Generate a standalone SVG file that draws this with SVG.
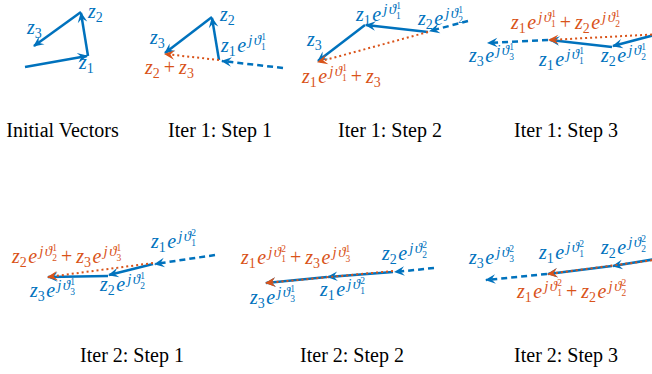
<svg xmlns="http://www.w3.org/2000/svg" width="652" height="374" viewBox="0 0 652 374">
<style>
.m{font-family:"Liberation Serif","DejaVu Serif",serif;font-size:20px;font-style:italic}
.b{fill:#0072BD}
.o{fill:#D95319}
.d{font-style:normal;font-size:14px}
.sl{font-size:15px}
.dd{font-style:normal;font-size:9.5px}
.r{font-style:normal}
.c{font-family:"Liberation Serif","Times New Roman",serif;font-size:20px;text-anchor:middle;fill:#000}
.sb{stroke:#0072BD;stroke-width:2.5;fill:none;marker-end:url(#ab)}
.db{stroke:#0072BD;stroke-width:2.5;fill:none;stroke-dasharray:6 4;marker-end:url(#ab)}
.ot{stroke:#D95319;stroke-width:2;fill:none;stroke-dasharray:2 3;marker-end:url(#ao)}
</style>
<defs>
<marker id="ab" viewBox="-11 -6 13 12" markerWidth="13" markerHeight="12" refX="0" refY="0" orient="auto" markerUnits="userSpaceOnUse"><path d="M1,0 L-9.5,-4.8 L-5.5,0 L-9.5,4.8 Z" fill="#0072BD"/></marker>
<marker id="ao" viewBox="-11 -6 13 12" markerWidth="13" markerHeight="12" refX="0" refY="0" orient="auto" markerUnits="userSpaceOnUse"><path d="M1,0 L-9.5,-4.8 L-5.5,0 L-9.5,4.8 Z" fill="#D95319"/></marker>
</defs>

<g id="panel-initial">
<g class="connectors">
<line class="sb" x1="25" y1="67" x2="87" y2="56"/>
<line class="sb" x1="88" y1="56" x2="81" y2="13"/>
<line class="sb" x1="81" y1="12" x2="34" y2="46"/>
</g>
<text class="m b" x="27" y="34">z<tspan class="d" dy="4">3</tspan></text>
<text class="m b" x="88" y="18">z<tspan class="d" dy="4">2</tspan></text>
<text class="m b" x="79" y="69">z<tspan class="d" dy="4">1</tspan></text>
<text class="c" x="62.5" y="137">Initial Vectors</text>
</g>

<g id="panel-i1s1">
<g class="connectors">
<line class="db" x1="283" y1="68" x2="222" y2="61"/>
<line class="sb" x1="219" y1="60" x2="212" y2="18"/>
<line class="sb" x1="212" y1="17" x2="165" y2="53"/>
<line class="ot" x1="219" y1="60" x2="165" y2="54"/>
</g>
<text class="m b" x="220" y="21">z<tspan class="d" dy="4">2</tspan></text>
<text class="m b" x="150" y="44">z<tspan class="d" dy="4">3</tspan></text>
<text class="m b" x="221" y="52">z<tspan class="d" dy="4">1</tspan><tspan dx="1.5" dy="-4">e</tspan><tspan class="sl" dx="2" dy="-7">j</tspan><tspan class="sl" dx="1.5">ϑ</tspan><tspan class="dd" dy="-5.5">1</tspan><tspan class="dd" dx="-4.75" dy="10.5">1</tspan></text>
<text class="m o" x="145" y="74">z<tspan class="d" dy="4">2</tspan><tspan class="r" dx="4" dy="-4">+</tspan><tspan dx="4">z</tspan><tspan class="d" dy="4">3</tspan></text>
<text class="c" x="220" y="137">Iter 1: Step 1</text>
</g>

<g id="panel-i1s2">
<g class="connectors">
<line class="db" x1="468" y1="21" x2="430" y2="31"/>
<line class="sb" x1="428" y1="32" x2="366" y2="25"/>
<line class="sb" x1="365" y1="25" x2="318" y2="61"/>
<line class="ot" x1="428" y1="32" x2="318" y2="62"/>
</g>
<text class="m b" x="356" y="21">z<tspan class="d" dy="4">1</tspan><tspan dx="1.5" dy="-4">e</tspan><tspan class="sl" dx="2" dy="-7">j</tspan><tspan class="sl" dx="1.5">ϑ</tspan><tspan class="dd" dy="-5.5">1</tspan><tspan class="dd" dx="-4.75" dy="10.5">1</tspan></text>
<text class="m b" x="418" y="25">z<tspan class="d" dy="4">2</tspan><tspan dx="1.5" dy="-4">e</tspan><tspan class="sl" dx="2" dy="-7">j</tspan><tspan class="sl" dx="1.5">ϑ</tspan><tspan class="dd" dy="-5.5">1</tspan><tspan class="dd" dx="-4.75" dy="10.5">2</tspan></text>
<text class="m b" x="307" y="46">z<tspan class="d" dy="4">3</tspan></text>
<text class="m o" x="302" y="83">z<tspan class="d" dy="4">1</tspan><tspan dx="1.5" dy="-4">e</tspan><tspan class="sl" dx="2" dy="-7">j</tspan><tspan class="sl" dx="1.5">ϑ</tspan><tspan class="dd" dy="-5.5">1</tspan><tspan class="dd" dx="-4.75" dy="10.5">1</tspan><tspan class="r" dx="4" dy="2">+</tspan><tspan dx="4">z</tspan><tspan class="d" dy="4">3</tspan></text>
<text class="c" x="390" y="137">Iter 1: Step 2</text>
</g>

<g id="panel-i1s3">
<g class="connectors">
<line class="sb" x1="662" y1="33" x2="613" y2="46"/>
<line class="sb" x1="612" y1="47" x2="550" y2="40"/>
<line class="ot" x1="662" y1="34" x2="549" y2="40"/>
<line class="db" x1="548" y1="40" x2="488" y2="43"/>
</g>
<text class="m o" x="511" y="29">z<tspan class="d" dy="4">1</tspan><tspan dx="1.5" dy="-4">e</tspan><tspan class="sl" dx="2" dy="-7">j</tspan><tspan class="sl" dx="1.5">ϑ</tspan><tspan class="dd" dy="-5.5">1</tspan><tspan class="dd" dx="-4.75" dy="10.5">1</tspan><tspan class="r" dx="4" dy="2">+</tspan><tspan dx="4">z</tspan><tspan class="d" dy="4">2</tspan><tspan dx="1.5" dy="-4">e</tspan><tspan class="sl" dx="2" dy="-7">j</tspan><tspan class="sl" dx="1.5">ϑ</tspan><tspan class="dd" dy="-5.5">1</tspan><tspan class="dd" dx="-4.75" dy="10.5">2</tspan></text>
<text class="m b" x="469" y="62">z<tspan class="d" dy="4">3</tspan><tspan dx="1.5" dy="-4">e</tspan><tspan class="sl" dx="2" dy="-7">j</tspan><tspan class="sl" dx="1.5">ϑ</tspan><tspan class="dd" dy="-5.5">1</tspan><tspan class="dd" dx="-4.75" dy="10.5">3</tspan></text>
<text class="m b" x="539" y="66">z<tspan class="d" dy="4">1</tspan><tspan dx="1.5" dy="-4">e</tspan><tspan class="sl" dx="2" dy="-7">j</tspan><tspan class="sl" dx="1.5">ϑ</tspan><tspan class="dd" dy="-5.5">1</tspan><tspan class="dd" dx="-4.75" dy="10.5">1</tspan></text>
<text class="m b" x="601" y="62">z<tspan class="d" dy="4">2</tspan><tspan dx="1.5" dy="-4">e</tspan><tspan class="sl" dx="2" dy="-7">j</tspan><tspan class="sl" dx="1.5">ϑ</tspan><tspan class="dd" dy="-5.5">1</tspan><tspan class="dd" dx="-4.75" dy="10.5">2</tspan></text>
<text class="c" x="566" y="137">Iter 1: Step 3</text>
</g>

<g id="panel-i2s1">
<g class="connectors">
<line class="db" x1="215" y1="255" x2="155" y2="264"/>
<line class="sb" x1="153" y1="264" x2="109" y2="275"/>
<line class="sb" x1="108" y1="276" x2="48" y2="277"/>
<line class="ot" x1="153" y1="263" x2="48" y2="277"/>
</g>
<text class="m o" x="12" y="263">z<tspan class="d" dy="4">2</tspan><tspan dx="1.5" dy="-4">e</tspan><tspan class="sl" dx="2" dy="-7">j</tspan><tspan class="sl" dx="1.5">ϑ</tspan><tspan class="dd" dy="-5.5">1</tspan><tspan class="dd" dx="-4.75" dy="10.5">2</tspan><tspan class="r" dx="4" dy="2">+</tspan><tspan dx="4">z</tspan><tspan class="d" dy="4">3</tspan><tspan dx="1.5" dy="-4">e</tspan><tspan class="sl" dx="2" dy="-7">j</tspan><tspan class="sl" dx="1.5">ϑ</tspan><tspan class="dd" dy="-5.5">1</tspan><tspan class="dd" dx="-4.75" dy="10.5">3</tspan></text>
<text class="m b" x="151" y="248">z<tspan class="d" dy="4">1</tspan><tspan dx="1.5" dy="-4">e</tspan><tspan class="sl" dx="2" dy="-7">j</tspan><tspan class="sl" dx="1.5">ϑ</tspan><tspan class="dd" dy="-5.5">2</tspan><tspan class="dd" dx="-4.75" dy="10.5">1</tspan></text>
<text class="m b" x="30" y="297">z<tspan class="d" dy="4">3</tspan><tspan dx="1.5" dy="-4">e</tspan><tspan class="sl" dx="2" dy="-7">j</tspan><tspan class="sl" dx="1.5">ϑ</tspan><tspan class="dd" dy="-5.5">1</tspan><tspan class="dd" dx="-4.75" dy="10.5">3</tspan></text>
<text class="m b" x="100" y="291">z<tspan class="d" dy="4">2</tspan><tspan dx="1.5" dy="-4">e</tspan><tspan class="sl" dx="2" dy="-7">j</tspan><tspan class="sl" dx="1.5">ϑ</tspan><tspan class="dd" dy="-5.5">1</tspan><tspan class="dd" dx="-4.75" dy="10.5">2</tspan></text>
<text class="c" x="132" y="362">Iter 2: Step 1</text>
</g>

<g id="panel-i2s2">
<g class="connectors">
<line class="db" x1="434" y1="268" x2="395" y2="272"/>
<line class="sb" x1="393" y1="272" x2="328" y2="277"/>
<line class="sb" x1="327" y1="277" x2="266" y2="283"/>
<line class="ot" x1="393" y1="271" x2="266" y2="283"/>
</g>
<text class="m o" x="241" y="264">z<tspan class="d" dy="4">1</tspan><tspan dx="1.5" dy="-4">e</tspan><tspan class="sl" dx="2" dy="-7">j</tspan><tspan class="sl" dx="1.5">ϑ</tspan><tspan class="dd" dy="-5.5">2</tspan><tspan class="dd" dx="-4.75" dy="10.5">1</tspan><tspan class="r" dx="4" dy="2">+</tspan><tspan dx="4">z</tspan><tspan class="d" dy="4">3</tspan><tspan dx="1.5" dy="-4">e</tspan><tspan class="sl" dx="2" dy="-7">j</tspan><tspan class="sl" dx="1.5">ϑ</tspan><tspan class="dd" dy="-5.5">1</tspan><tspan class="dd" dx="-4.75" dy="10.5">3</tspan></text>
<text class="m b" x="382" y="260">z<tspan class="d" dy="4">2</tspan><tspan dx="1.5" dy="-4">e</tspan><tspan class="sl" dx="2" dy="-7">j</tspan><tspan class="sl" dx="1.5">ϑ</tspan><tspan class="dd" dy="-5.5">2</tspan><tspan class="dd" dx="-4.75" dy="10.5">2</tspan></text>
<text class="m b" x="320" y="296">z<tspan class="d" dy="4">1</tspan><tspan dx="1.5" dy="-4">e</tspan><tspan class="sl" dx="2" dy="-7">j</tspan><tspan class="sl" dx="1.5">ϑ</tspan><tspan class="dd" dy="-5.5">2</tspan><tspan class="dd" dx="-4.75" dy="10.5">1</tspan></text>
<text class="m b" x="250" y="304">z<tspan class="d" dy="4">3</tspan><tspan dx="1.5" dy="-4">e</tspan><tspan class="sl" dx="2" dy="-7">j</tspan><tspan class="sl" dx="1.5">ϑ</tspan><tspan class="dd" dy="-5.5">1</tspan><tspan class="dd" dx="-4.75" dy="10.5">3</tspan></text>
<text class="c" x="352" y="362">Iter 2: Step 2</text>
</g>

<g id="panel-i2s3">
<g class="connectors">
<line class="sb" x1="662" y1="258" x2="613" y2="266"/>
<line class="sb" x1="612" y1="266" x2="548" y2="274"/>
<line class="ot" x1="662" y1="259" x2="548" y2="274"/>
<line class="db" x1="547" y1="274" x2="486" y2="280"/>
</g>
<text class="m b" x="469" y="264">z<tspan class="d" dy="4">3</tspan><tspan dx="1.5" dy="-4">e</tspan><tspan class="sl" dx="2" dy="-7">j</tspan><tspan class="sl" dx="1.5">ϑ</tspan><tspan class="dd" dy="-5.5">2</tspan><tspan class="dd" dx="-4.75" dy="10.5">3</tspan></text>
<text class="m b" x="539" y="259">z<tspan class="d" dy="4">1</tspan><tspan dx="1.5" dy="-4">e</tspan><tspan class="sl" dx="2" dy="-7">j</tspan><tspan class="sl" dx="1.5">ϑ</tspan><tspan class="dd" dy="-5.5">2</tspan><tspan class="dd" dx="-4.75" dy="10.5">1</tspan></text>
<text class="m b" x="601" y="254">z<tspan class="d" dy="4">2</tspan><tspan dx="1.5" dy="-4">e</tspan><tspan class="sl" dx="2" dy="-7">j</tspan><tspan class="sl" dx="1.5">ϑ</tspan><tspan class="dd" dy="-5.5">2</tspan><tspan class="dd" dx="-4.75" dy="10.5">2</tspan></text>
<text class="m o" x="517" y="298">z<tspan class="d" dy="4">1</tspan><tspan dx="1.5" dy="-4">e</tspan><tspan class="sl" dx="2" dy="-7">j</tspan><tspan class="sl" dx="1.5">ϑ</tspan><tspan class="dd" dy="-5.5">2</tspan><tspan class="dd" dx="-4.75" dy="10.5">1</tspan><tspan class="r" dx="4" dy="2">+</tspan><tspan dx="4">z</tspan><tspan class="d" dy="4">2</tspan><tspan dx="1.5" dy="-4">e</tspan><tspan class="sl" dx="2" dy="-7">j</tspan><tspan class="sl" dx="1.5">ϑ</tspan><tspan class="dd" dy="-5.5">2</tspan><tspan class="dd" dx="-4.75" dy="10.5">2</tspan></text>
<text class="c" x="566" y="362">Iter 2: Step 3</text>
</g>
</svg>
